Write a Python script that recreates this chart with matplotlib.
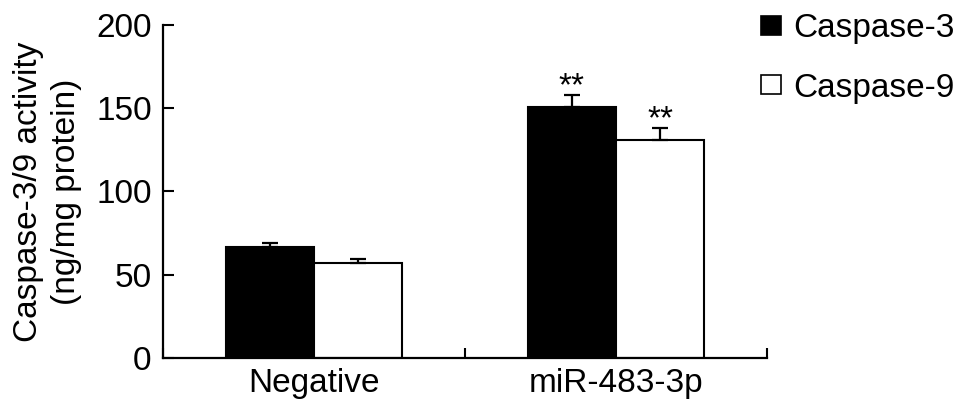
import numpy as np
import matplotlib

matplotlib.use('Agg')
import matplotlib.pyplot as plt
from matplotlib.patches import Patch

plt.rcParams['font.family'] = ['Liberation Sans', 'DejaVu Sans']

groups = ['Negative', 'miR-483-3p']
series = ['Caspase-3', 'Caspase-9']
casp3 = [66.5, 151]
casp3_err = [2.8, 6.8]
casp9 = [57, 131]
casp9_err = [2.6, 7]
stars3 = ['', '**']
stars9 = ['', '**']

fig = plt.figure(figsize=(9.69, 4.16), dpi=100)
ax = fig.add_axes([0.168, 0.1394, 0.6235, 0.8006])

x = np.array([0.5, 1.5])
w = 0.292
err_kw = dict(ecolor='black', elinewidth=1.6, capsize=6, capthick=1.6)

ax.bar(x - w / 2, casp3, w, color='black', edgecolor='black', linewidth=1.5,
       yerr=[np.zeros(2), casp3_err], error_kw=err_kw, zorder=2)
ax.bar(x + w / 2, casp9, w, color='white', edgecolor='black', linewidth=1.5,
       yerr=[np.zeros(2), casp9_err], error_kw=err_kw, zorder=2)

# significance marks above the error caps
for i in range(2):
    if stars3[i]:
        ax.annotate(stars3[i], (x[i] - w / 2, casp3[i] + casp3_err[i]),
                    xytext=(0, -5), textcoords='offset points',
                    ha='center', va='bottom', fontsize=24)
    if stars9[i]:
        ax.annotate(stars9[i], (x[i] + w / 2, casp9[i] + casp9_err[i]),
                    xytext=(0, -5), textcoords='offset points',
                    ha='center', va='bottom', fontsize=24)

ax.set_xlim(0, 2)
ax.set_ylim(0, 200)
ax.set_yticks([0, 50, 100, 150, 200])
ax.set_xticks([0, 1, 2])
ax.set_xticklabels([])
ax.set_xticks(x, minor=True)
ax.set_xticklabels(groups, minor=True)
ax.tick_params(axis='x', which='minor', length=0, labelsize=24, pad=7)
ax.tick_params(axis='x', which='major', direction='in', length=7, width=1.5)
ax.tick_params(axis='y', direction='in', length=8, width=1.5, labelsize=24, pad=8)

for s in ['top', 'right']:
    ax.spines[s].set_visible(False)
for s in ['left', 'bottom']:
    ax.spines[s].set_linewidth(1.6)

ax.set_ylabel('Caspase-3/9 activity\n(ng/mg protein)', fontsize=24,
              linespacing=1.3, labelpad=10)

handles = [Patch(facecolor='black', edgecolor='black', linewidth=1.2),
           Patch(facecolor='white', edgecolor='black', linewidth=1.2)]
fig.legend(handles, series, loc='upper left', bbox_to_anchor=(0.785, 0.968),
           frameon=False, fontsize=24, handlelength=0.62, handleheight=0.5,
           handletextpad=0.35, labelspacing=0.85, borderpad=0, borderaxespad=0)

plt.savefig('out.png', dpi=100)
